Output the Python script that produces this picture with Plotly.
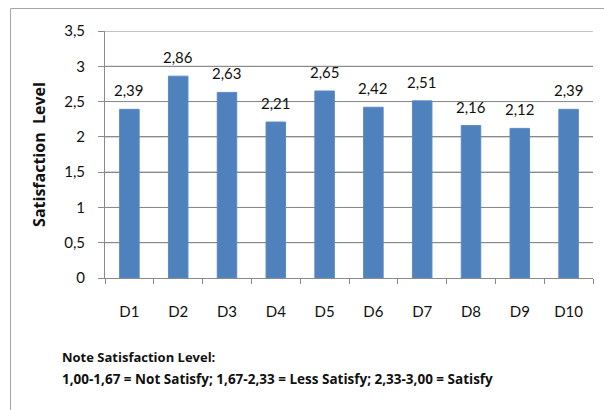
import plotly.graph_objects as go

# Satisfaction level per dimension
categories = ["D1", "D2", "D3", "D4", "D5", "D6", "D7", "D8", "D9", "D10"]
satisfaction = [2.39, 2.86, 2.63, 2.21, 2.65, 2.42, 2.51, 2.16, 2.12, 2.39]
y_ticks = [0, 0.5, 1, 1.5, 2, 2.5, 3, 3.5]
y_tick_labels = ["0", "0,5", "1", "1,5", "2", "2,5", "3", "3,5"]

note_lines = [
    "Note Satisfaction Level:",
    "1,00-1,67 = Not Satisfy; 1,67-2,33 = Less Satisfy; 2,33-3,00 = Satisfy",
]
note_sizes = [13, 13.5]

FONT = "Lato, 'Open Sans', sans-serif"
GRID = "#8A8A8A"

fig = go.Figure(
    go.Bar(
        x=categories,
        y=satisfaction,
        marker=dict(color="#4F81BD", line=dict(color="#5B8AC4", width=1)),
    )
)

# Horizontal grid at each y tick, placed on the y scale behind the bars
for t in y_ticks[1:]:
    fig.add_shape(
        type="line",
        xref="x domain", yref="y",
        x0=0, x1=1, y0=t, y1=t,
        line=dict(color=GRID, width=1),
        layer="below",
    )

# Value labels above each bar
for cat, val in zip(categories, satisfaction):
    fig.add_annotation(
        x=cat, y=val,
        text=f"{val:.2f}".replace(".", ","),
        xref="x", yref="y",
        yanchor="bottom",
        yshift=8,
        showarrow=False,
        font=dict(size=15, family=FONT, color="#111111"),
    )

fig.update_layout(
    width=604,
    height=410,
    margin=dict(l=105, r=11, t=31, b=132),
    paper_bgcolor="white",
    plot_bgcolor="white",
    bargap=0.6,
    showlegend=False,
    font=dict(family=FONT, color="#111111"),
    yaxis=dict(
        range=[0, 3.5],
        tickmode="array",
        tickvals=y_ticks,
        ticktext=y_tick_labels,
        showgrid=True,
        gridcolor=GRID,
        gridwidth=1,
        showline=True,
        linecolor=GRID,
        linewidth=1,
        ticks="outside",
        ticklen=6,
        tickcolor=GRID,
        ticklabelstandoff=10,
        tickfont=dict(size=15, family=FONT),
        zeroline=False,
        title=dict(
            text="<b>Satisfaction  Level</b>",
            font=dict(size=16, family="'Open Sans', sans-serif"),
            standoff=14,
        ),
    ),
    xaxis=dict(
        showline=True,
        linecolor=GRID,
        linewidth=1,
        ticks="outside",
        tickson="boundaries",
        ticklen=5,
        tickcolor=GRID,
        ticklabelstandoff=20,
        tickfont=dict(size=15, family=FONT),
        showgrid=False,
    ),
)

# Outer chart frame
fig.add_shape(
    type="rect",
    xref="paper", yref="paper",
    x0=-0.1936, x1=1.05, y0=-0.6, y1=1.091,
    line=dict(color="#A6A6A6", width=1),
    fillcolor="rgba(0,0,0,0)",
    layer="above",
)

# Note under the chart
for i, (line, size) in enumerate(zip(note_lines, note_sizes)):
    fig.add_annotation(
        text=f"<b>{line}</b>",
        xref="paper", yref="paper",
        x=-0.0922, y=-0.32 - i * 0.088,
        xanchor="left", yanchor="middle",
        showarrow=False,
        font=dict(size=size, family="'Open Sans', sans-serif", color="#111111"),
    )

fig.write_html("out.html")
